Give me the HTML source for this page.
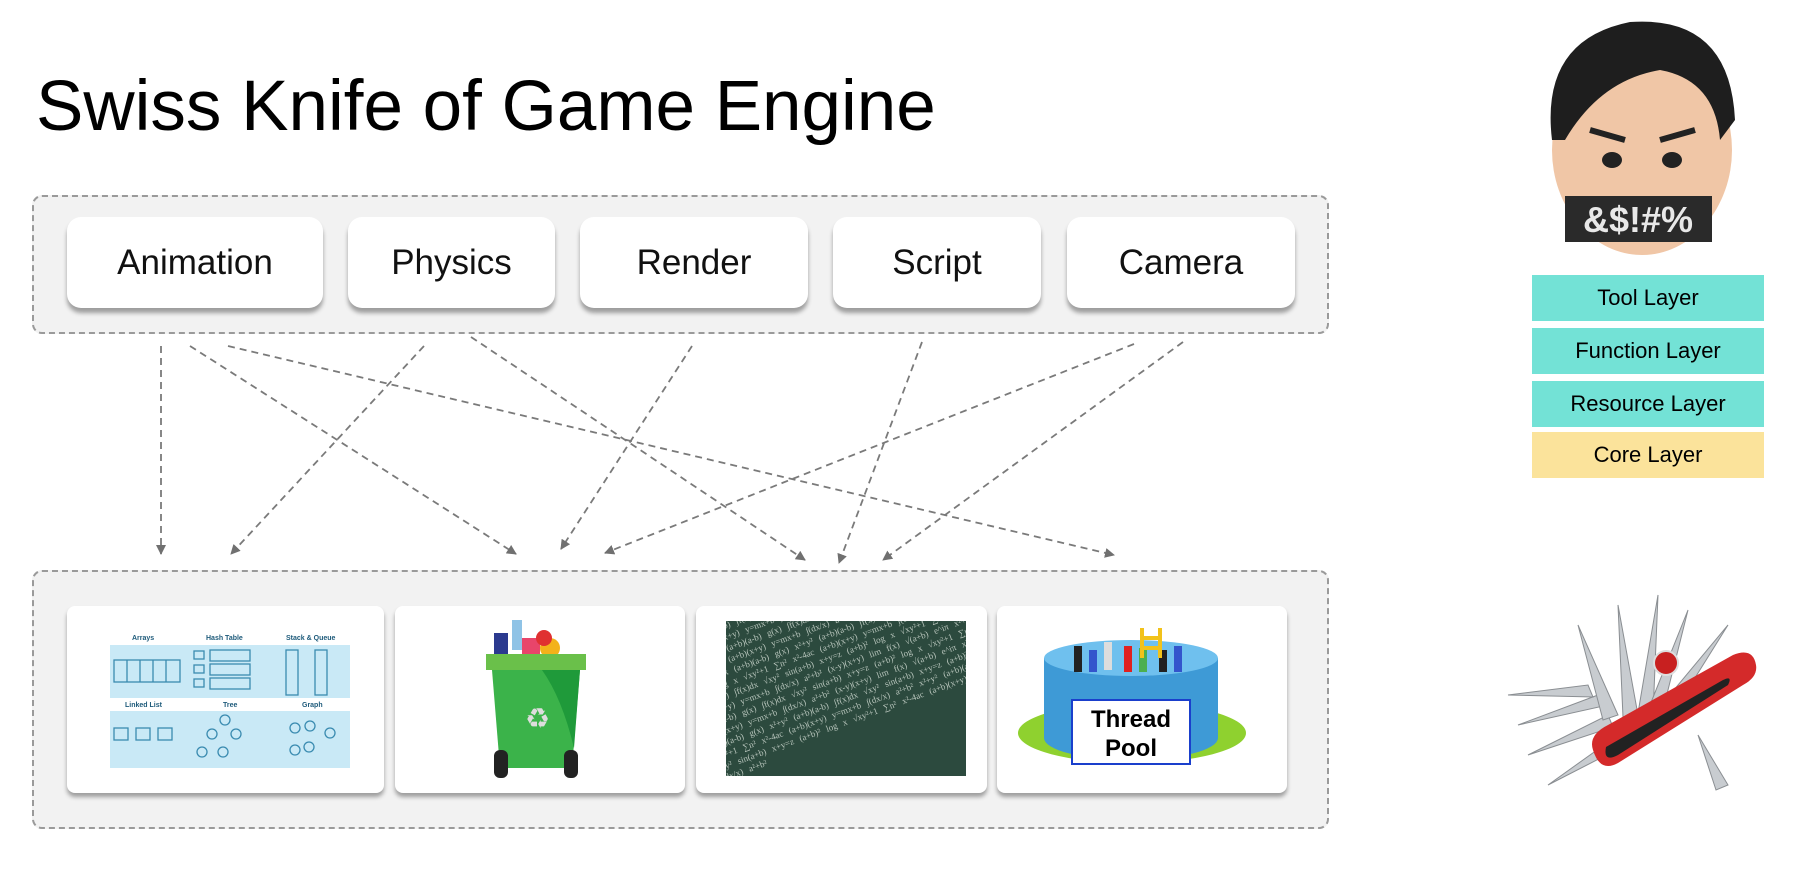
<!DOCTYPE html>
<html><head><meta charset="utf-8"><style>
html,body{margin:0;padding:0;background:#fff;}
body{width:1815px;height:892px;position:relative;overflow:hidden;font-family:"Liberation Sans",sans-serif;}
.abs{position:absolute;}
.box{position:absolute;background:#f2f2f2;border:2px dashed #9a9a9a;border-radius:10px;box-sizing:border-box;}
.btn{position:absolute;background:#fff;border-radius:14px;box-shadow:0 5px 4px rgba(0,0,0,0.35);display:flex;align-items:center;justify-content:center;font-size:35px;color:#111;top:217px;height:91px;}
.card{position:absolute;background:#fff;border-radius:8px;box-shadow:0 4px 4px rgba(0,0,0,0.35);top:606px;height:187px;}
.layer{position:absolute;left:1532px;width:232px;height:46px;display:flex;align-items:center;justify-content:center;font-size:22px;color:#000;}
</style></head><body>
<div class="abs" style="left:36px;top:66px;font-size:71px;color:#000;white-space:nowrap;">Swiss Knife of Game Engine</div>

<div class="box" style="left:32px;top:195px;width:1297px;height:139px;"></div>
<div class="btn" style="left:67px;width:256px;">Animation</div>
<div class="btn" style="left:348px;width:207px;">Physics</div>
<div class="btn" style="left:580px;width:228px;">Render</div>
<div class="btn" style="left:833px;width:208px;">Script</div>
<div class="btn" style="left:1067px;width:228px;">Camera</div>

<svg class="abs" style="left:0;top:0" width="1815" height="892">
<defs><marker id="a" markerWidth="10" markerHeight="10" refX="9" refY="5" orient="auto" markerUnits="userSpaceOnUse"><path d="M0,0 L10,5 L0,10 z" fill="#707070"/></marker></defs>
<g stroke="#7a7a7a" stroke-width="1.8" stroke-dasharray="7,5" fill="none" marker-end="url(#a)">
<line x1="161" y1="346" x2="161" y2="554"/>
<line x1="190" y1="346" x2="516" y2="554"/>
<line x1="228" y1="346" x2="1114" y2="555"/>
<line x1="424" y1="346" x2="231" y2="554"/>
<line x1="471" y1="337" x2="805" y2="560"/>
<line x1="692" y1="346" x2="561" y2="549"/>
<line x1="922" y1="342" x2="839" y2="563"/>
<line x1="1134" y1="344" x2="605" y2="553"/>
<line x1="1183" y1="342" x2="883" y2="560"/>
</g></svg>

<div class="box" style="left:32px;top:570px;width:1297px;height:259px;"></div>
<div class="card" style="left:67px;width:317px;"></div>
<div class="card" style="left:395px;width:290px;"></div>
<div class="card" style="left:696px;width:291px;"></div>
<div class="card" style="left:997px;width:290px;"></div>

<svg class="abs" style="left:110px;top:630px" width="240" height="138" font-family="Liberation Sans" font-size="7" font-weight="bold" fill="#1d5a7a">
<rect x="0" y="15" width="240" height="53" fill="#c9e9f6"/>
<rect x="0" y="81" width="240" height="57" fill="#c9e9f6"/>
<text x="22" y="10">Arrays</text><text x="96" y="10">Hash Table</text><text x="176" y="10">Stack &amp; Queue</text>
<text x="15" y="77">Linked List</text><text x="113" y="77">Tree</text><text x="192" y="77">Graph</text>
<g stroke="#3a8bb0" fill="none" stroke-width="1.3">
<rect x="4" y="30" width="66" height="22"/><line x1="17" y1="30" x2="17" y2="52"/><line x1="30" y1="30" x2="30" y2="52"/><line x1="43" y1="30" x2="43" y2="52"/><line x1="56" y1="30" x2="56" y2="52"/>
<rect x="84" y="21" width="10" height="8"/><rect x="100" y="20" width="40" height="11"/>
<rect x="84" y="35" width="10" height="8"/><rect x="100" y="34" width="40" height="11"/>
<rect x="84" y="49" width="10" height="8"/><rect x="100" y="48" width="40" height="11"/>
<rect x="176" y="20" width="12" height="45"/><rect x="205" y="20" width="12" height="45"/>
<rect x="4" y="98" width="14" height="12"/><rect x="26" y="98" width="14" height="12"/><rect x="48" y="98" width="14" height="12"/>
<circle cx="115" cy="90" r="5"/><circle cx="102" cy="104" r="5"/><circle cx="126" cy="104" r="5"/><circle cx="92" cy="122" r="5"/><circle cx="113" cy="122" r="5"/>
<circle cx="185" cy="98" r="5"/><circle cx="200" cy="96" r="5"/><circle cx="220" cy="103" r="5"/><circle cx="185" cy="120" r="5"/><circle cx="199" cy="117" r="5"/>
</g></svg>

<svg class="abs" style="left:482px;top:618px" width="112" height="165">
<rect x="30" y="2" width="10" height="30" fill="#8fc3e6"/><rect x="12" y="15" width="14" height="25" fill="#2b3a8f"/>
<rect x="40" y="20" width="18" height="20" fill="#e8456a"/><circle cx="68" cy="30" r="10" fill="#f3b21a"/><circle cx="62" cy="20" r="8" fill="#e03030"/>
<rect x="4" y="36" width="100" height="16" fill="#6ac04a"/>
<path d="M10,52 L98,52 L90,150 L18,150 Z" fill="#3bb34a"/>
<path d="M60,52 L98,52 L92,130 Q80,80 60,52Z" fill="#1f9a3a"/>
<text x="43" y="110" font-size="28" fill="#ddd">♻</text>
<rect x="12" y="132" width="14" height="28" rx="6" fill="#222"/><rect x="82" y="132" width="14" height="28" rx="6" fill="#222"/>
</svg>

<div class="abs" style="left:726px;top:621px;width:240px;height:155px;background:#2c4a3e;overflow:hidden;">
<div style="position:absolute;left:-40px;top:-40px;width:320px;transform:rotate(-20deg);color:#b9c6bd;font-size:9px;line-height:11px;font-family:'Liberation Serif',serif;word-spacing:4px;">
x²+y² (a+b)(a-b) ∫f(x)dx √xy² sin(a+b) x+y=z (a+b)² log x √xy²+1 ∑n² x²-4ac (a+b)(x+y) y=mx+b ∫(dx/x) a²+b² (x-y)(x+y) lim f(x) √(a+b) e^iπ x²+y² ∂f/∂x (a+b)(a-b) g(x) ∫f(x)dx √xy² sin(a+b) x+y=z (a+b)² log x √xy²+1 ∑n² x²-4ac (a+b)(x+y) y=mx+b ∫(dx/x) a²+b² (x-y)(x+y) lim f(x) √(a+b) e^iπ x²+y² ∂f/∂x (a+b)(a-b) g(x) x²+y² (a+b)(a-b) ∫f(x)dx √xy² sin(a+b) x+y=z (a+b)² log x √xy²+1 ∑n² x²-4ac (a+b)(x+y) y=mx+b ∫(dx/x) a²+b² x²+y² (a+b)(a-b) ∫f(x)dx √xy² sin(a+b) x+y=z (a+b)² log x √xy²+1 ∑n² x²-4ac (a+b)(x+y) y=mx+b ∫(dx/x) a²+b² (x-y)(x+y) lim f(x) √(a+b) e^iπ x²+y² ∂f/∂x (a+b)(a-b) g(x) ∫f(x)dx √xy² sin(a+b) x+y=z (a+b)² log x √xy²+1 ∑n² x²-4ac (a+b)(x+y) y=mx+b ∫(dx/x) a²+b² (x-y)(x+y) lim f(x) √(a+b) e^iπ x²+y² ∂f/∂x (a+b)(a-b) g(x) x²+y² (a+b)(a-b) ∫f(x)dx √xy² sin(a+b) x+y=z (a+b)² log x √xy²+1 ∑n² x²-4ac (a+b)(x+y) y=mx+b ∫(dx/x) a²+b² x²+y² (a+b)(a-b) ∫f(x)dx √xy² sin(a+b) x+y=z (a+b)² log x √xy²+1 ∑n² x²-4ac (a+b)(x+y) y=mx+b ∫(dx/x) a²+b²
</div></div>

<svg class="abs" style="left:1014px;top:628px" width="240" height="140">
<ellipse cx="118" cy="105" rx="114" ry="30" fill="#8fd12f"/>
<rect x="30" y="30" width="174" height="80" fill="#3e9ad6"/>
<ellipse cx="117" cy="110" rx="87" ry="22" fill="#3e9ad6"/>
<ellipse cx="117" cy="30" rx="87" ry="18" fill="#6fc0ee"/>
<rect x="60" y="18" width="8" height="26" fill="#222"/><rect x="75" y="22" width="8" height="22" fill="#3355cc"/><rect x="90" y="14" width="8" height="28" fill="#ddd"/><rect x="110" y="18" width="8" height="26" fill="#e02020"/><rect x="125" y="20" width="8" height="24" fill="#4caf50"/><rect x="145" y="22" width="8" height="22" fill="#222"/><rect x="160" y="18" width="8" height="26" fill="#3355cc"/>
<path d="M128,0 L128,30 M146,0 L146,30 M128,10 L146,10 M128,20 L146,20" stroke="#f2c21a" stroke-width="4"/>
<rect x="58" y="72" width="118" height="64" fill="#fff" stroke="#1a3fcc" stroke-width="2"/>
<text x="117" y="99" font-family="Liberation Sans" font-weight="bold" font-size="24" text-anchor="middle" fill="#000">Thread</text>
<text x="117" y="128" font-family="Liberation Sans" font-weight="bold" font-size="24" text-anchor="middle" fill="#000">Pool</text>
</svg>

<svg class="abs" style="left:1540px;top:10px" width="205" height="255">
<ellipse cx="102" cy="140" rx="90" ry="105" fill="#f0c6a6"/>
<path d="M12,130 Q0,30 90,12 Q190,5 195,110 L180,130 Q175,70 120,60 Q60,70 25,130Z" fill="#1e1e1e"/>
<path d="M50,120 L85,130 M120,130 L155,120" stroke="#222" stroke-width="6"/>
<ellipse cx="72" cy="150" rx="10" ry="8" fill="#222"/><ellipse cx="132" cy="150" rx="10" ry="8" fill="#222"/>
<rect x="25" y="186" width="147" height="46" fill="#2a2a2a"/>
<text x="98" y="222" font-family="Liberation Sans" font-weight="bold" font-size="36" text-anchor="middle" fill="#e8e8e8">&amp;$!#%</text>
</svg>

<div class="layer" style="top:275px;background:#73e2d6;">Tool Layer</div>
<div class="layer" style="top:328px;background:#73e2d6;">Function Layer</div>
<div class="layer" style="top:381px;background:#73e2d6;">Resource Layer</div>
<div class="layer" style="top:432px;background:#fbe39b;">Core Layer</div>

<svg class="abs" style="left:1488px;top:585px" width="270" height="225">
<g fill="#c8ccd0" stroke="#8a8e92" stroke-width="1">
<path d="M30,140 L110,110 L120,120 Z"/><path d="M20,110 L100,100 L105,112Z"/><path d="M40,170 L120,130 L125,142Z"/>
<path d="M90,40 L130,130 L115,135Z"/><path d="M130,20 L150,130 L135,132Z"/><path d="M170,10 L165,130 L150,128Z"/>
<path d="M200,25 L175,125 L162,120Z"/><path d="M240,40 L190,120 L180,112Z"/><path d="M60,200 L130,150 L138,160Z"/>
<path d="M210,150 L240,200 L228,205Z"/>
</g>
<path d="M105,165 Q100,150 120,140 L245,70 Q265,62 268,80 Q270,92 255,100 L130,178 Q112,188 105,165Z" fill="#d42a2a"/>
<path d="M118,162 L235,95 Q245,90 240,100 L130,170 Q115,178 118,162Z" fill="#222"/>
<circle cx="178" cy="78" r="12" fill="#c82020" stroke="#ddd" stroke-width="2"/>
</svg>
</body></html>
